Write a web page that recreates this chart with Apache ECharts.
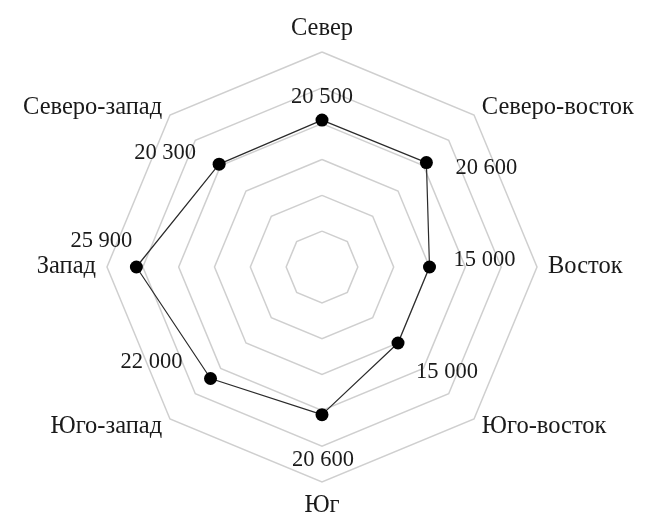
<!DOCTYPE html>
<html><head><meta charset="utf-8">
<script src="https://cdn.jsdelivr.net/npm/echarts@6/dist/echarts.min.js"></script>
<style>html,body{margin:0;padding:0;background:#fff}#c{width:649px;height:518px}</style>
</head><body><div id="c"></div>
<script>
// Categories clockwise from the top
const categories = ['Север','Северо-восток','Восток','Юго-восток','Юг','Юго-запад','Запад','Северо-запад'];
const values = [20500, 20600, 15000, 15000, 20600, 22000, 25900, 20300];
const axisMax = 30000;

// label offsets (layout only), same clockwise order
const labelOffsets = [[0,-23],[60,5],[55,-7],[49,29],[1,45],[-59,-16],[-35,-26],[-54,-11]];

const n = categories.length;
// ECharts radar lays indicators counter-clockwise: reorder
const order = categories.map((_, i) => (n - i) % n);
const fmt = v => String(v).replace(/\B(?=(\d{3})+(?!\d))/g, ' ');
const FONT = '"Liberation Serif", "Times New Roman", serif';

const mainItem = {
  value: order.map(i => values[i]),
  symbol: 'circle', symbolSize: 13,
  itemStyle: { color: '#000' },
  lineStyle: { color: '#2a2a2a', width: 1.2 },
  label: { show: false }
};
const labelItems = categories.map((_, k) => ({
  value: order.map(i => i === k ? values[i] : 0),
  symbol: 'circle', symbolSize: 1,
  itemStyle: { color: 'rgba(0,0,0,0)' },
  lineStyle: { width: 0, opacity: 0 },
  label: {
    show: true, position: 'inside', offset: labelOffsets[k],
    color: '#1a1a1a', fontFamily: FONT, fontSize: 22.5, opacity: 1,
    formatter: p => { const v = Array.isArray(p.value) ? p.value[0] : p.value; return v ? fmt(v) : ''; }
  }
}));

const chart = echarts.init(document.getElementById('c'), null, { renderer: 'canvas' });
chart.setOption({
  animation: false,
  backgroundColor: '#fff',
  radar: {
    center: [322, 267],
    radius: 215,
    startAngle: 90,
    splitNumber: 6,
    shape: 'polygon',
    axisNameGap: 11,
    axisName: { color: '#1a1a1a', fontFamily: FONT, fontSize: 24.5 },
    indicator: order.map(i => ({ name: categories[i], min: 0, max: axisMax })),
    axisLine: { show: false },
    axisTick: { show: false },
    axisLabel: { show: false },
    splitArea: { show: false },
    splitLine: { lineStyle: { color: '#cfcfcf', width: 1.5 } }
  },
  series: [{
    type: 'radar',
    silent: true,
    data: [mainItem].concat(labelItems)
  }]
});
</script></body></html>
